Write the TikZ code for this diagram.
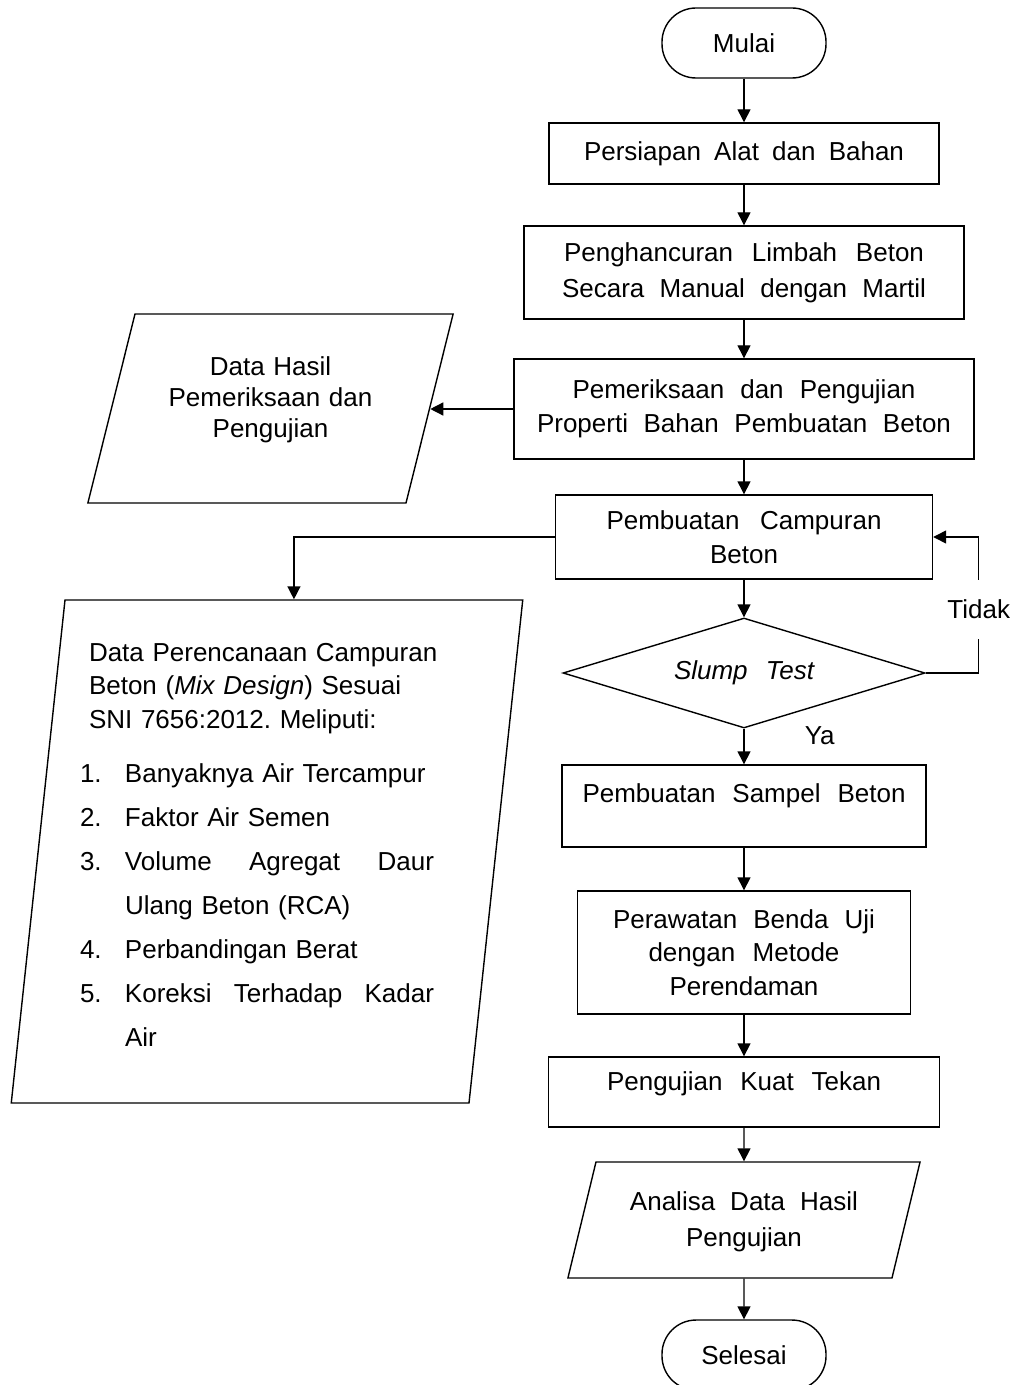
\documentclass[tikz,border=0pt]{standalone}
\usepackage{fontspec}
\setmainfont{Liberation Sans}
\usepackage{tikz}
\usetikzlibrary{positioning, shapes, arrows.meta}

\begin{document}
\begin{tikzpicture}[font=\fontsize{13}{17}\selectfont, line width=0.7pt]
	\tikzstyle{proses} = [rectangle, draw, align=center, inner sep=0pt]
	\tikzstyle{terminal} = [rectangle, draw, rounded corners=17pt, minimum width=82pt, minimum height=35pt]
	\tikzstyle{data} = [trapezium, draw, align=center, inner sep=0pt]
	\tikzstyle{keputusan} = [diamond, draw, aspect=3.3, inner sep=0pt, minimum width=181pt, minimum height=55pt]
	\tikzstyle{panah} = [-{Triangle[length=6.5pt, width=6.5pt]}]

	\useasboundingbox (0,0) rectangle (507pt,-692.5pt);

	\node [terminal] (mulai) at (372pt,-21.5pt) {Mulai};
	\node [proses, minimum width=195pt, minimum height=30.5pt, below=21.8pt of mulai] (persiapan) {\makebox[160pt][s]{Persiapan Alat dan Bahan}};
	\node [proses, minimum width=220pt, minimum height=46.5pt, below=20.3pt of persiapan, font=\fontsize{13}{18}\selectfont] (penghancuran) {\makebox[180pt][s]{Penghancuran Limbah Beton}\\\makebox[182pt][s]{Secara Manual dengan Martil}};
	\node [proses, minimum width=230pt, minimum height=50pt, below=19.3pt of penghancuran] (pemeriksaan) {\makebox[171.5pt][s]{Pemeriksaan dan Pengujian}\\\makebox[207pt][s]{Properti Bahan Pembuatan Beton}};
	\node [proses, minimum width=188.5pt, minimum height=42pt, below=17.3pt of pemeriksaan] (pembuatan) {\makebox[137.5pt][s]{Pembuatan Campuran}\\Beton};
	\node [keputusan, below=18.8pt of pembuatan] (slump) {\makebox[70pt][s]{\itshape Slump Test}};
	\node [proses, minimum width=182pt, minimum height=41pt, text depth=12.5pt, below=17.8pt of slump] (sampel) {\makebox[161.5pt][s]{Pembuatan Sampel Beton}};
	\node [proses, minimum width=166.5pt, minimum height=61.5pt, below=21.3pt of sampel, font=\fontsize{13}{16.75}\selectfont] (perawatan) {\makebox[131pt][s]{Perawatan Benda Uji}\\\makebox[95.5pt][s]{dengan Metode}\\Perendaman};
	\node [proses, minimum width=195.5pt, minimum height=35pt, text depth=11pt, below=20.8pt of perawatan] (pengujian) {\makebox[137pt][s]{Pengujian Kuat Tekan}};
	\node [data, trapezium left angle=76.4, trapezium right angle=103.6, text width=148pt, text height=24pt, text depth=34pt, below=16.8pt of pengujian, font=\fontsize{13}{18}\selectfont] (analisa) {\makebox[114pt]{Analisa\hfill Data\hfill Hasil}\\Pengujian};
	\node [terminal, below=20.3pt of analisa] (selesai) {Selesai};

	\node [data, trapezium left angle=76, trapezium right angle=104, text width=135.5pt, text height=30.5pt, text depth=64pt, font=\fontsize{13}{15.5}\selectfont] (hasil) at (135.25pt,-204.25pt) {Data Hasil\\Pemeriksaan dan\\Pengujian};
	\node [data, trapezium left angle=83.9, trapezium right angle=96.1, inner xsep=7.5pt, text width=187pt, text height=30.5pt, text depth=221pt, align=left, font=\fontsize{13}{16.75}\selectfont] (rencana) at (133.5pt,-425.75pt) {%
		\hspace*{4.5pt}Data Perencanaan Campuran\\
		\hspace*{4.5pt}Beton (\textit{Mix Design}) Sesuai\\
		\hspace*{4.5pt}SNI 7656:2012.\ Meliputi:\\[10.25pt]
		\makebox[22.5pt][l]{1.}Banyaknya Air Tercampur\\[5.25pt]
		\makebox[22.5pt][l]{2.}Faktor Air Semen\\[5.25pt]
		\makebox[22.5pt][l]{3.}\makebox[154.5pt]{Volume\hfill Agregat\hfill Daur}\\[5.25pt]
		\hspace*{22.5pt}Ulang Beton (RCA)\\[5.25pt]
		\makebox[22.5pt][l]{4.}Perbandingan Berat\\[5.25pt]
		\makebox[22.5pt][l]{5.}\makebox[154.5pt]{Koreksi\hfill Terhadap\hfill Kadar}\\[5.25pt]
		\hspace*{22.5pt}Air};

	\draw [panah] (mulai) -- (persiapan);
	\draw [panah] (persiapan) -- (penghancuran);
	\draw [panah] (penghancuran) -- (pemeriksaan);
	\draw [panah] (pemeriksaan) -- (pembuatan);
	\draw [panah] (pemeriksaan.west) -- (pemeriksaan.west -| hasil.right side);
	\draw [panah] (pembuatan.west) -| (rencana.top side);
	\draw [panah] (pembuatan) -- (slump);
	\draw [panah] (slump.east) -- ++(26.5pt,0) |- node[pos=0.235, fill=white, inner xsep=1pt, inner ysep=10pt] (tidak) {Tidak} (pembuatan.east);
	\draw [panah] (slump) -- node[pos=0.2, anchor=west, xshift=26.7pt] (ya) {Ya} (sampel);
	\draw [panah] (sampel) -- (perawatan);
	\draw [panah] (perawatan) -- (pengujian);
	\draw [panah] (pengujian) -- (analisa);
	\draw [panah] (analisa) -- (selesai);
\end{tikzpicture}
\end{document}
